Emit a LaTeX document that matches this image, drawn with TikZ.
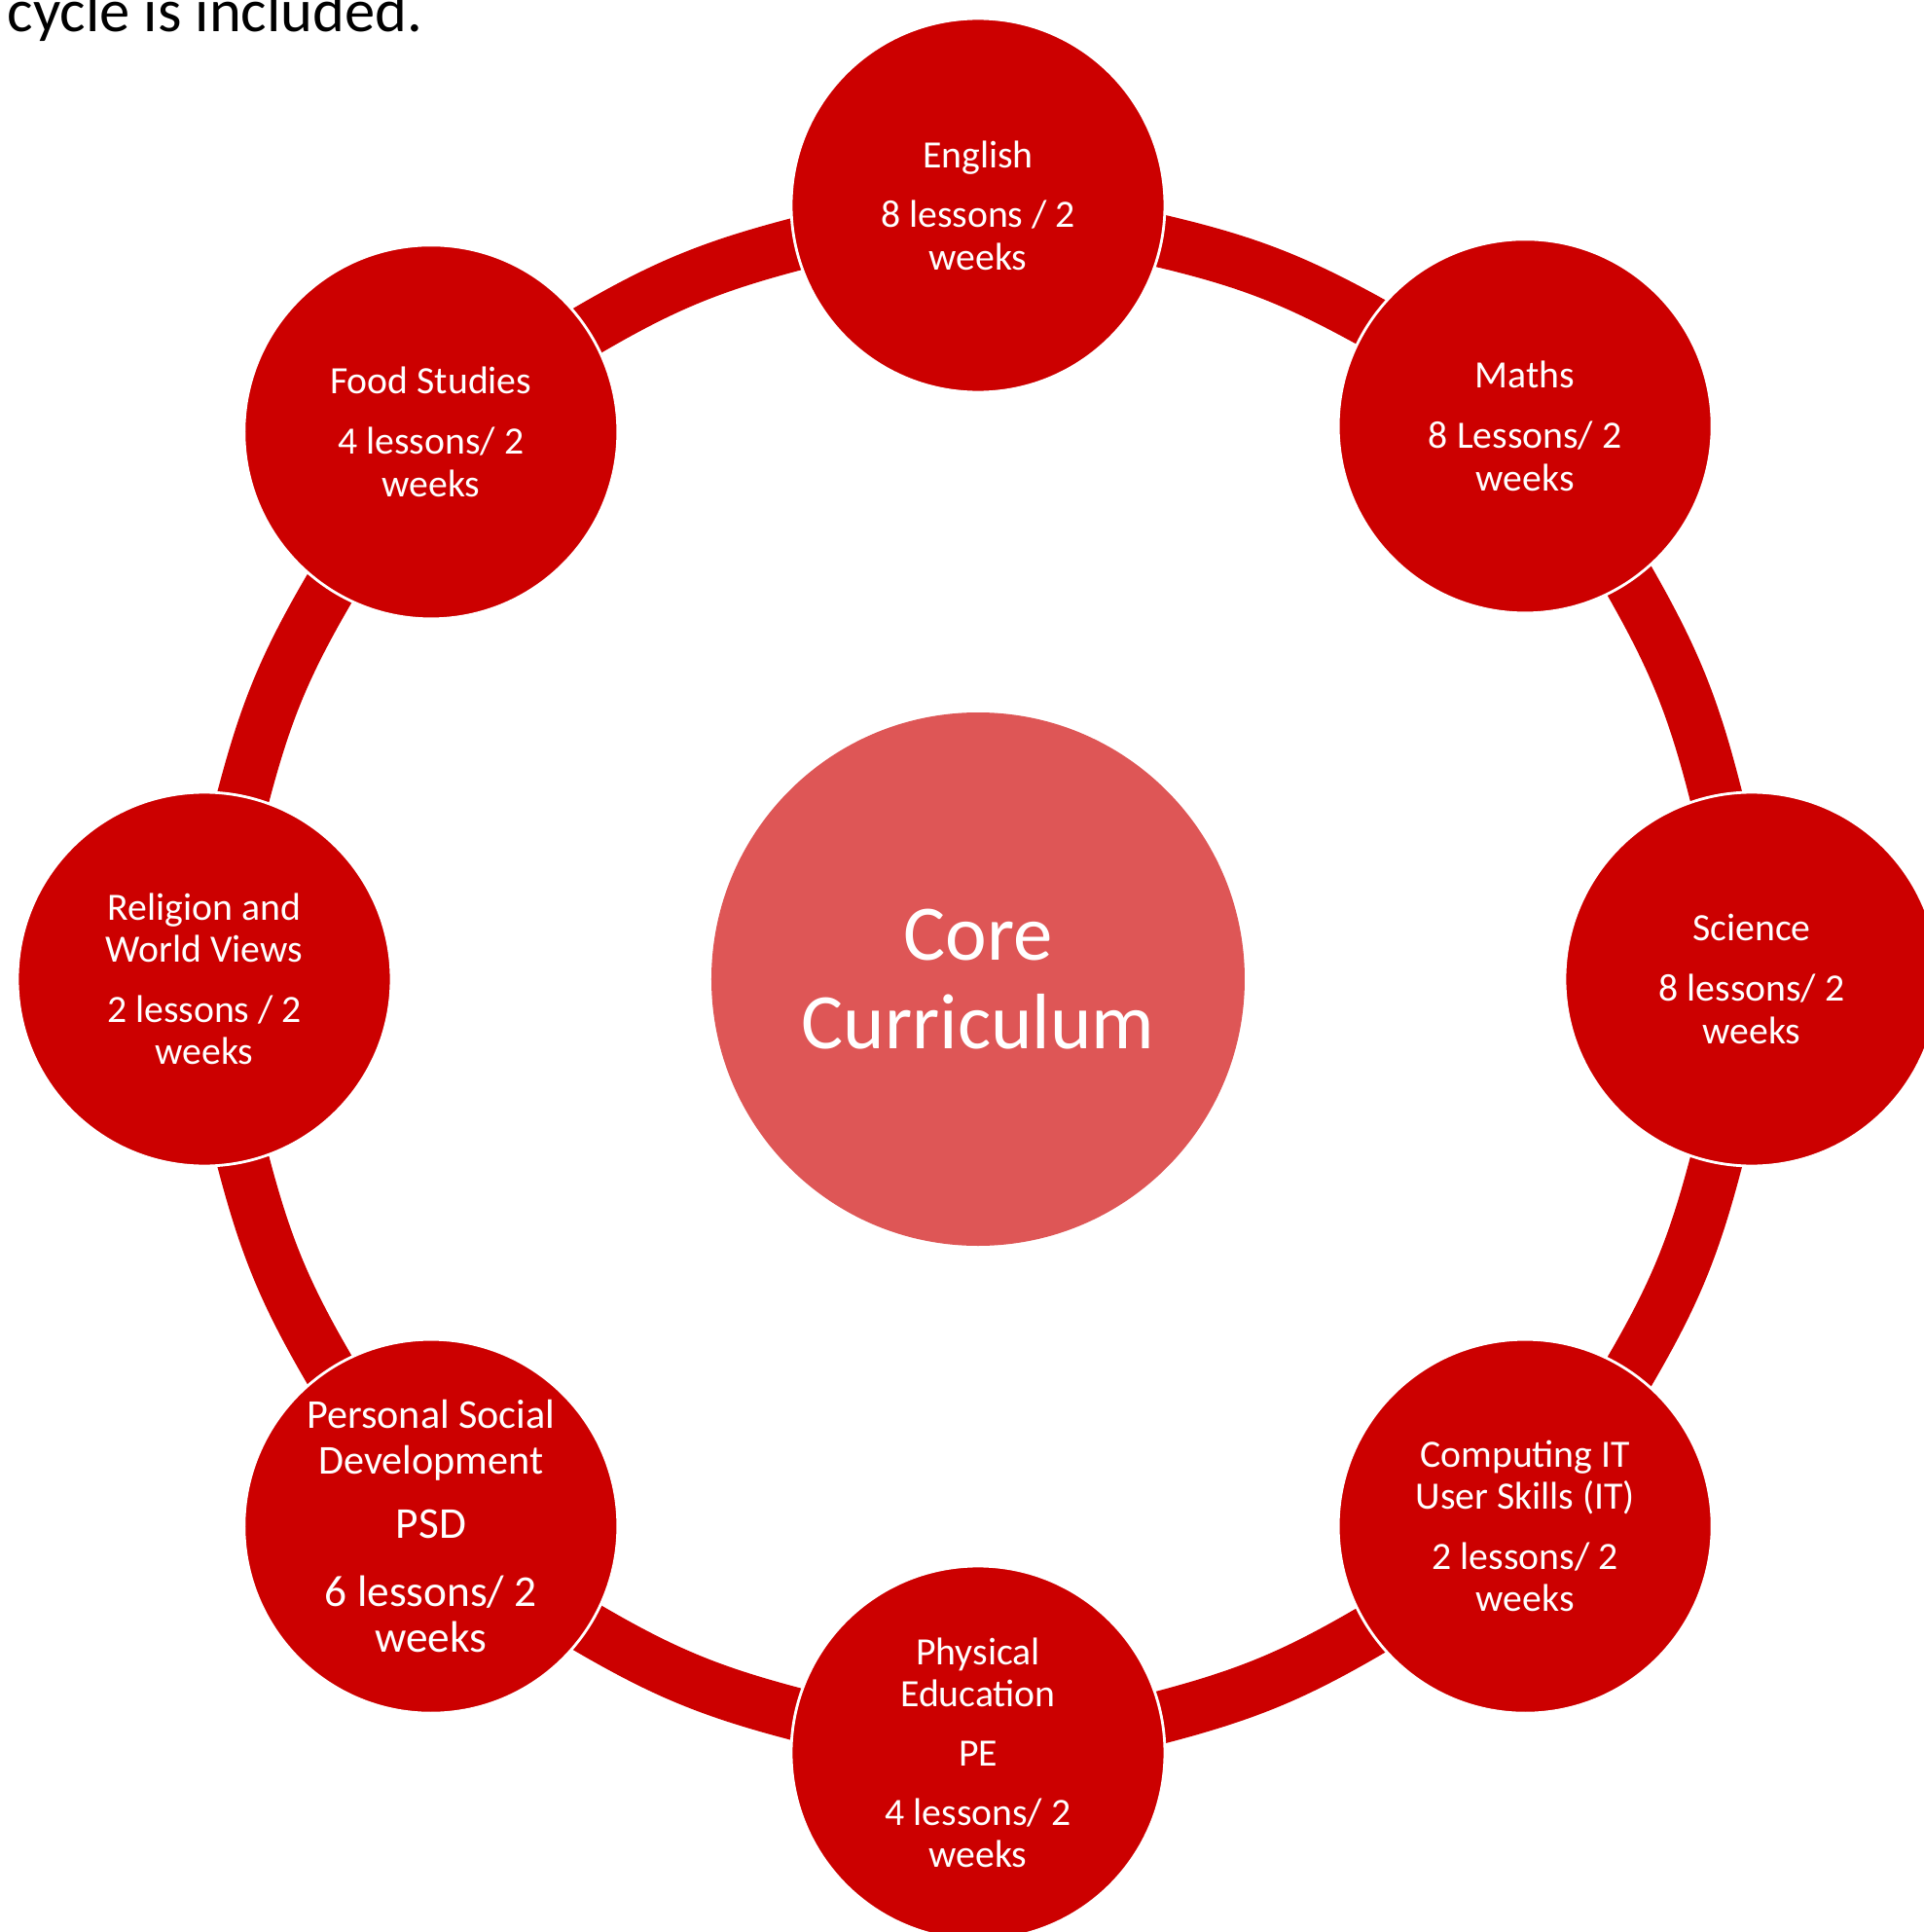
\documentclass[tikz,border=0pt]{standalone}
\usepackage{fontspec}
\setmainfont{Carlito}
\usetikzlibrary{backgrounds}
\definecolor{ringred}{RGB}{204,0,0}
\definecolor{corepink}{RGB}{222,86,86}

\begin{document}
\begin{tikzpicture}[
    subject/.style={circle, fill=ringred, draw=white, line width=0.8pt,
      minimum size=3.84cm, inner sep=0pt, text=white, align=center,
      font=\fontsize{11.3}{12.3}\selectfont},
    band/.style={ringred, line width=0.54cm, shorten <=-0.3cm, shorten >=-0.3cm}]
  \useasboundingbox (-10.05,-9.79) rectangle (9.71,10.06);

  \node[anchor=base west, inner sep=0pt, font=\fontsize{17.8}{21}\selectfont]
    (caption) at (-9.98,9.73) {cycle is included.};

  \node[circle, fill=corepink, minimum size=5.48cm, text=white, align=center,
    font=\fontsize{23}{26}\selectfont] (core) at (0,0) {Core\\Curriculum};

  % subjects round the ring
  \node[subject] (english) at (90:7.95) {English\\[5.3pt]8 lessons / 2\\weeks};
  \node[subject] (maths) at ([yshift=0.06cm]45:7.95) {Maths\\[5.3pt]8 Lessons/ 2\\weeks};
  \node[subject] (science) at (0:7.95) {Science\\[5.3pt]8 lessons/ 2\\weeks};
  \node[subject] (computing) at (-45:7.95)
    {Computing IT\\User Skills (IT)\\[5.3pt]2 lessons/ 2\\weeks};
  \node[subject] (pe) at (-90:7.95)
    {Physical\\Education\\[5pt]PE\\[5pt]4 lessons/ 2\\weeks};
  \node[subject, font=\fontsize{12}{13.4}\selectfont] (psd) at (-135:7.95)
    {Personal Social\\Development\\[5.3pt]\fontsize{12.9}{13.7}\selectfont PSD\\[6.7pt]%
     \fontsize{12.9}{13.7}\selectfont 6 lessons/ 2\\\fontsize{12.9}{13.7}\selectfont weeks};
  \node[subject] (religion) at (180:7.95)
    {Religion and\\World Views\\[5.3pt]2 lessons / 2\\weeks};
  \node[subject] (food) at (135:7.95) {Food Studies\\[5.3pt]4 lessons/ 2\\weeks};

  \begin{scope}[on background layer]
    \draw[band] (english.-11.4) to[bend left=8.5] (maths.146.4);
    \draw[band] (maths.-56.4) to[bend left=8.5] (science.101.4);
    \draw[band] (science.-101.4) to[bend left=8.5] (computing.56.4);
    \draw[band] (computing.-146.4) to[bend left=8.5] (pe.11.4);
    \draw[band] (pe.168.6) to[bend left=8.5] (psd.-33.6);
    \draw[band] (psd.123.6) to[bend left=8.5] (religion.-78.6);
    \draw[band] (religion.78.6) to[bend left=8.5] (food.-123.6);
    \draw[band] (food.33.6) to[bend left=8.5] (english.-168.6);
  \end{scope}
\end{tikzpicture}
\end{document}
